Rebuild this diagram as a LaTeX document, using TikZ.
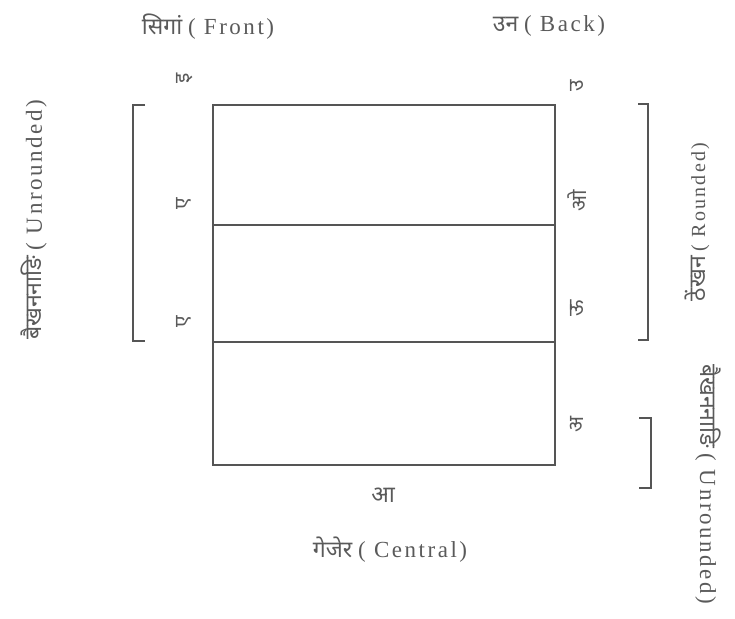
\documentclass[tikz,border=0pt]{standalone}
\usepackage{fontspec}
\setmainfont{Liberation Serif}
\newfontfamily\deva[Script=Devanagari]{Noto Sans}
\newfontfamily\spaced[LetterSpace=11]{Liberation Serif}
\definecolor{ink}{HTML}{5A5A5A}
\definecolor{rule}{HTML}{555555}
\newcommand{\dv}[1]{{\deva\fontsize{23}{26}\selectfont #1}}
\begin{document}
\begin{tikzpicture}[x=1pt,y=-1pt,
  lbl/.style={text=ink,font=\fontsize{23}{26}\selectfont,inner sep=0pt},
  vow/.style={text=ink,font=\deva\fontsize{21}{23}\selectfont,inner sep=0pt,rotate=90},
  ln/.style={draw=rule,line width=1.1pt}]
\useasboundingbox (0,0) rectangle (735,618);
% box
\coordinate (tl) at (213,105);
\coordinate (br) at (555,465);
\draw[ln] (tl) rectangle (br);
\coordinate (l1) at (213,225); \coordinate (r1) at (555,225);
\coordinate (l2) at (213,342); \coordinate (r2) at (555,342);
\draw[ln] (l1) -- (r1);
\draw[ln] (l2) -- (r2);
% brackets
\coordinate (ba1) at (145,105); \coordinate (ba2) at (133,105);
\coordinate (ba3) at (133,341); \coordinate (ba4) at (145,341);
\draw[ln] (ba1) -- (ba2) -- (ba3) -- (ba4);
\coordinate (bb1) at (638,104); \coordinate (bb2) at (648,104);
\coordinate (bb3) at (648,340); \coordinate (bb4) at (638,340);
\draw[ln] (bb1) -- (bb2) -- (bb3) -- (bb4);
\coordinate (bc1) at (639,418); \coordinate (bc2) at (651,418);
\coordinate (bc3) at (651,488); \coordinate (bc4) at (639,488);
\draw[ln] (bc1) -- (bc2) -- (bc3) -- (bc4);
% top labels
\node[lbl] (front) at (208,27) {\dv{सिगां} {\spaced( Front)}};
\node[lbl] (back) at (549,26) {\dv{उन} {\spaced( Back)}};
% bottom labels
\node[vow,rotate=-90,font=\deva\fontsize{23}{26}\selectfont] (aa) at (383,495) {आ};
\node[lbl] (central) at (390,550) {\dv{गेजेर} {\spaced( Central)}};
% side labels
\node[lbl,rotate=90] (unr) at (34,220) {\dv{बैखननाङि} {\spaced( Unrounded)}};
\node[lbl,rotate=90,font=\fontsize{20}{23}\selectfont] (rnd) at (697,222) {\dv{ठेंखन} {\spaced( Rounded)}};
\node[lbl,rotate=-90] (unr2) at (708,484) {\dv{बैखननाङि} {\spaced( Unrounded)}};
% vowel letters
\node[vow] (i) at (185,78) {इ};
\node[vow] (e1) at (184,204) {ए};
\node[vow] (e2) at (184,322) {ए};
\node[vow] (u) at (577,86) {उ};
\node[vow] (o) at (577,201) {ओ};
\node[vow] (uu) at (577,308) {ऊ};
\node[vow] (a) at (577,424) {अ};
\end{tikzpicture}
\end{document}
